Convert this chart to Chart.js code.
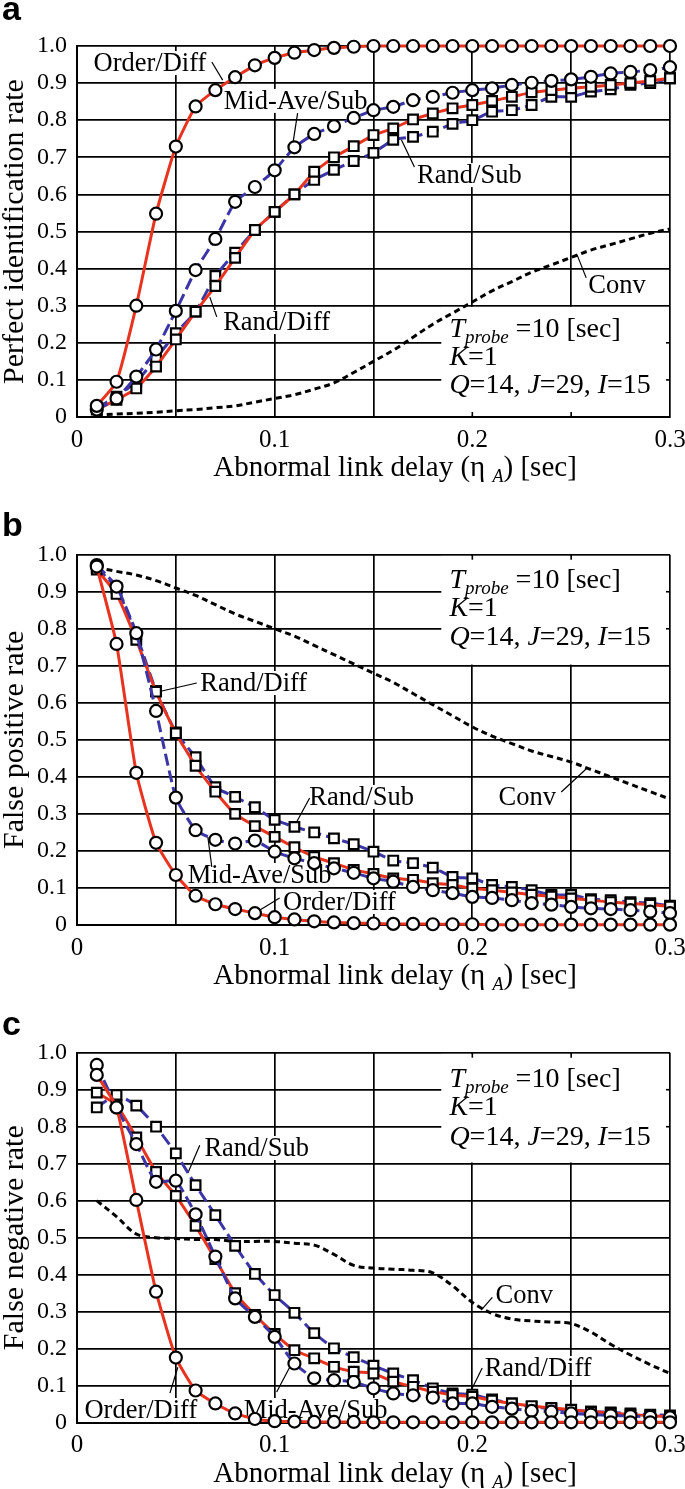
<!DOCTYPE html>
<html><head><meta charset="utf-8">
<script src="https://cdn.jsdelivr.net/npm/chart.js@4.4.1/dist/chart.umd.min.js"></script>
<style>
html,body{margin:0;padding:0;background:#fff;}
body{width:685px;height:1489px;position:relative;overflow:hidden;}
canvas{position:absolute;left:0;}
</style></head><body>
<canvas id="ca" width="685" height="500" style="top:0px"></canvas>
<canvas id="cb" width="685" height="505" style="top:490px"></canvas>
<canvas id="cc" width="685" height="504" style="top:985px"></canvas>
<script>
// ---------- DATA ----------
const xDelay = [0.01,0.02,0.03,0.04,0.05,0.06,0.07,0.08,0.09,0.10,0.11,0.12,0.13,0.14,0.15,0.16,0.17,0.18,0.19,0.20,0.21,0.22,0.23,0.24,0.25,0.26,0.27,0.28,0.29,0.30];
const xTickLabels = ['0','0.1','0.2','0.3'];
const yTickLabels = ['0','0.1','0.2','0.3','0.4','0.5','0.6','0.7','0.8','0.9','1.0'];
const seriesNames = ['Order/Diff','Mid-Ave/Sub','Rand/Diff','Rand/Sub','Conv'];

// (a) Perfect identification rate
const aOrderDiff = [0.03,0.095,0.30,0.548,0.729,0.837,0.881,0.916,0.948,0.968,0.982,0.989,0.995,0.998,1,1,1,1,1,1,1,1,1,1,1,1,1,1,1,1];
const aMidAveSub = [0.02,0.05,0.109,0.182,0.286,0.396,0.48,0.58,0.62,0.665,0.727,0.763,0.784,0.806,0.827,0.836,0.854,0.863,0.874,0.881,0.886,0.895,0.901,0.906,0.91,0.917,0.926,0.93,0.935,0.943];
const aRandDiff = [0.02,0.046,0.077,0.136,0.209,0.284,0.353,0.429,0.504,0.553,0.60,0.661,0.70,0.73,0.76,0.778,0.802,0.818,0.832,0.841,0.852,0.863,0.875,0.881,0.886,0.89,0.895,0.90,0.906,0.913];
const aRandSub = [0.025,0.055,0.095,0.158,0.226,0.284,0.38,0.443,0.504,0.553,0.60,0.639,0.666,0.69,0.712,0.747,0.755,0.769,0.79,0.80,0.823,0.827,0.841,0.863,0.863,0.877,0.883,0.895,0.90,0.913];
const aConv = [0.005,0.008,0.01,0.013,0.017,0.02,0.025,0.03,0.04,0.05,0.06,0.075,0.092,0.12,0.15,0.18,0.215,0.25,0.28,0.31,0.34,0.365,0.39,0.41,0.43,0.45,0.465,0.48,0.495,0.507];

// (b) False positive rate
const bOrderDiff = [0.968,0.759,0.411,0.222,0.135,0.079,0.056,0.043,0.032,0.021,0.015,0.01,0.007,0.005,0.004,0.003,0.003,0.002,0.002,0.002,0.001,0.001,0.001,0.001,0.001,0.001,0.001,0.001,0.001,0.001];
const bMidAveSub = [0.972,0.914,0.788,0.578,0.344,0.256,0.23,0.22,0.228,0.198,0.18,0.167,0.153,0.141,0.126,0.117,0.103,0.094,0.086,0.076,0.073,0.067,0.059,0.055,0.049,0.045,0.043,0.04,0.036,0.032];
const bRandDiff = [0.96,0.894,0.77,0.63,0.518,0.43,0.36,0.30,0.267,0.238,0.21,0.184,0.167,0.149,0.138,0.126,0.122,0.113,0.108,0.099,0.094,0.088,0.082,0.077,0.072,0.067,0.062,0.058,0.055,0.05];
const bRandSub = [0.965,0.91,0.785,0.632,0.52,0.453,0.372,0.346,0.318,0.284,0.265,0.25,0.234,0.218,0.198,0.174,0.167,0.155,0.13,0.126,0.108,0.103,0.094,0.081,0.081,0.07,0.067,0.062,0.059,0.052];
const bConv = [0.965,0.955,0.945,0.93,0.91,0.89,0.865,0.84,0.82,0.80,0.78,0.755,0.73,0.705,0.68,0.655,0.625,0.595,0.565,0.535,0.51,0.49,0.47,0.455,0.44,0.42,0.40,0.38,0.36,0.34];

// (c) False negative rate
const cOrderDiff = [0.94,0.852,0.602,0.354,0.176,0.087,0.052,0.025,0.01,0.004,0.003,0.002,0.002,0.002,0.001,0.001,0.001,0.001,0.001,0.001,0.001,0.001,0.001,0.001,0.001,0.001,0.001,0.001,0.001,0.001];
const cMidAveSub = [0.967,0.852,0.753,0.651,0.654,0.563,0.449,0.336,0.286,0.232,0.16,0.12,0.115,0.11,0.093,0.079,0.074,0.068,0.052,0.052,0.043,0.038,0.032,0.03,0.025,0.022,0.02,0.018,0.016,0.014];
const cRandDiff = [0.892,0.859,0.771,0.678,0.613,0.532,0.442,0.35,0.291,0.24,0.196,0.174,0.151,0.138,0.133,0.111,0.097,0.084,0.075,0.07,0.06,0.052,0.045,0.04,0.035,0.03,0.026,0.022,0.019,0.016];
const cRandSub = [0.852,0.886,0.857,0.80,0.728,0.642,0.561,0.478,0.402,0.345,0.297,0.242,0.201,0.177,0.154,0.133,0.115,0.093,0.079,0.076,0.063,0.052,0.043,0.038,0.034,0.03,0.028,0.025,0.022,0.02];
const cConv = [0.60,0.557,0.51,0.50,0.498,0.495,0.495,0.49,0.49,0.49,0.485,0.48,0.455,0.425,0.418,0.415,0.412,0.405,0.37,0.325,0.295,0.28,0.275,0.272,0.268,0.245,0.212,0.183,0.157,0.133];

// ---------- STYLE ----------
const SERIF = '"Liberation Serif","Times New Roman",serif';
const RED = '#e8331f';
const BLUE = '#3c35a5';

function makeDatasets(series){
  const styles = [
    {color:RED, dash:[], style:'circle', r:6},
    {color:BLUE, dash:[12,5], style:'circle', r:6},
    {color:RED, dash:[], style:'rect', r:6.8},
    {color:BLUE, dash:[12,5], style:'rect', r:6.8},
    {color:'#000', dash:[6,4], style:false, r:0}
  ];
  return series.map((vals,i)=>({
    label: seriesNames[i],
    data: xDelay.map((x,k)=>({x:x,y:vals[k]})),
    borderColor: styles[i].color,
    borderWidth: 3,
    borderDash: styles[i].dash,
    tension: i===4 ? 0.35 : 0.15,
    pointStyle: styles[i].style,
    pointRadius: styles[i].r,
    pointBorderColor:'#000',
    pointBackgroundColor:'#fff',
    pointBorderWidth:2.2,
    clip:false,
    fill:false
  }));
}

function richWidth(ctx, parts){
  let w=0; for(const p of parts){ctx.font=p[1]; w+=ctx.measureText(p[0]).width;} return w;
}
function drawRich(ctx, parts, x, y){
  let cx=x;
  for(const p of parts){ctx.font=p[1]; ctx.fillText(p[0],cx,y+(p[2]||0)); cx+=ctx.measureText(p[0]).width;}
}

function annotPlugin(cfg){
  return {
    id:'annot_'+cfg.letter,
    beforeDatasetsDraw(chart){
      const ctx=chart.ctx, xs=chart.scales.x, ys=chart.scales.y, ca=chart.chartArea;
      const P=(x,y)=>[xs.getPixelForValue(x), ys.getPixelForValue(y)];
      ctx.save();
      const bx0 = xs.getPixelForValue(cfg.box.x0);
      const byTop = ys.getPixelForValue(cfg.box.y1), byBot = ys.getPixelForValue(cfg.box.y0);
      ctx.fillStyle='#fff';
      ctx.fillRect(bx0, byTop+1.2, ca.right-1.2-bx0, byBot-byTop-2.4);
      ctx.strokeStyle='#000'; ctx.lineWidth=1.6;
      for(const v of [0.2,0.25]){
        const px=xs.getPixelForValue(v);
        ctx.beginPath();
        if(cfg.box.y0===0){ctx.moveTo(px,byBot);ctx.lineTo(px,byBot-5);} else {ctx.moveTo(px,byTop);ctx.lineTo(px,byTop+5);}
        ctx.stroke();
      }
      for(const v of cfg.box.hStubs){
        const py=ys.getPixelForValue(v);
        ctx.beginPath();ctx.moveTo(ca.right,py);ctx.lineTo(ca.right-4,py);ctx.stroke();
      }
      ctx.fillStyle='#000'; ctx.textAlign='left'; ctx.textBaseline='alphabetic';
      const fN='28px '+SERIF, fI='italic 28px '+SERIF, fS='italic 19px '+SERIF;
      const px0 = xs.getPixelForValue(cfg.params.x);
      drawRich(ctx, [['T',fI],['probe',fS,6],[' =10 [sec]',fN]], px0, ys.getPixelForValue(cfg.params.ys[0]));
      drawRich(ctx, [['K',fI],['=1',fN]], px0, ys.getPixelForValue(cfg.params.ys[1]));
      drawRich(ctx, [['Q',fI],['=14, ',fN],['J',fI],['=29, ',fN],['I',fI],['=15',fN]], px0, ys.getPixelForValue(cfg.params.ys[2]));
      ctx.font='26.5px '+SERIF;
      for(const L of cfg.labels){
        const [t,lx,ly,x1,y1,x2,y2]=L;
        const [cx,cy]=P(lx,ly);
        const w=ctx.measureText(t).width;
        ctx.fillStyle='#fff';
        ctx.fillRect(cx-w/2-2, cy-12, w+4, 24);
        ctx.fillStyle='#000'; ctx.textAlign='center'; ctx.textBaseline='middle';
        ctx.fillText(t,cx,cy+1);
        const a=P(x1,y1), b=P(x2,y2);
        ctx.strokeStyle='#000'; ctx.lineWidth=1.2;
        ctx.beginPath();ctx.moveTo(a[0],a[1]);ctx.lineTo(b[0],b[1]);ctx.stroke();
      }
      ctx.restore();
    },
    afterDraw(chart){
      const ctx=chart.ctx, ca=chart.chartArea;
      ctx.save();
      ctx.fillStyle='#000';
      ctx.font='bold 34px "Liberation Sans",Arial,sans-serif';
      ctx.textAlign='left'; ctx.textBaseline='alphabetic';
      ctx.fillText(cfg.letter, 2, cfg.letterY);
      ctx.save();
      ctx.translate(23,(ca.top+ca.bottom)/2);
      ctx.rotate(-Math.PI/2);
      ctx.font='30px '+SERIF; ctx.textAlign='center';
      ctx.fillText(cfg.ytitle,0,0);
      ctx.restore();
      const fN='29px '+SERIF;
      const parts=[['Abnormal link delay (\u03b7',fN],[' ',fN],['A','italic 18px '+SERIF,6],[') [sec]',fN]];
      const w=richWidth(ctx,parts);
      ctx.textAlign='left';
      drawRich(ctx,parts,395-w/2,ca.bottom+59);
      ctx.restore();
    }
  };
}

function makeChart(cfg){
  const el=document.getElementById(cfg.canvas);
  return new Chart(el,{
    type:'line',
    data:{datasets:makeDatasets(cfg.series)},
    options:{
      responsive:false, animation:false, devicePixelRatio:1,
      layout:{padding:{top:cfg.padTop,right:15,left:0,bottom:0}},
      plugins:{legend:{display:false},tooltip:{enabled:false}},
      scales:{
        x:{type:'linear',min:0,max:0.3,
          afterFit(s){s.height=cfg.xAxisH;s.paddingLeft=0;s.paddingRight=0;},
          ticks:{stepSize:0.05,autoSkip:false,maxRotation:0,minRotation:0,padding:8,color:'#000',
            font:{family:SERIF,size:25},
            callback(v){const k=Math.round(v*10);return Math.abs(v*10-k)<1e-6?xTickLabels[k]:'';}},
          grid:{color:'#000',lineWidth:1.7,drawTicks:false},
          border:{color:'#000',width:2}
        },
        y:{type:'linear',min:0,max:1,
          afterFit(s){s.width=77;s.paddingTop=0;s.paddingBottom=0;},
          ticks:{stepSize:0.1,autoSkip:false,padding:10,color:'#000',
            font:{family:SERIF,size:24},
            callback(v){return yTickLabels[Math.round(v*10)];}},
          grid:{color:'#000',lineWidth:1.7,drawTicks:false},
          border:{color:'#000',width:2}
        }
      }
    },
    plugins:[annotPlugin(cfg)]
  });
}

makeChart({
  canvas:'ca', padTop:46, xAxisH:83, letter:'a', letterY:20,
  ytitle:'Perfect identification rate',
  series:[aOrderDiff,aMidAveSub,aRandDiff,aRandSub,aConv],
  box:{x0:0.1843,y0:0,y1:0.3,hStubs:[0.1,0.2]},
  params:{x:0.1884, ys:[0.2156,0.140,0.0647]},
  labels:[
    ['Order/Diff',0.0369,0.954,0.0682,0.957,0.0737,0.908],
    ['Mid-Ave/Sub',0.1106,0.852,0.1116,0.819,0.1091,0.733],
    ['Rand/Diff',0.101,0.256,0.0707,0.27,0.0672,0.323],
    ['Rand/Sub',0.1985,0.652,0.1707,0.674,0.1641,0.747],
    ['Conv',0.2732,0.356,0.2576,0.375,0.253,0.437]
  ]
});
makeChart({
  canvas:'cb', padTop:64.7, xAxisH:70, letter:'b', letterY:46,
  ytitle:'False positive rate',
  series:[bOrderDiff,bMidAveSub,bRandDiff,bRandSub,bConv],
  box:{x0:0.1843,y0:0.7,y1:1.0,hStubs:[0.8,0.9]},
  params:{x:0.1884, ys:[0.91,0.834,0.756]},
  labels:[
    ['Rand/Diff',0.0894,0.6535,0.0606,0.6535,0.0429,0.632],
    ['Rand/Sub',0.144,0.3457,0.1177,0.343,0.1111,0.278],
    ['Mid-Ave/Sub',0.0924,0.135,0.0682,0.1566,0.0662,0.2376],
    ['Order/Diff',0.1328,0.0621,0.1025,0.0729,0.0909,0.0351],
    ['Conv',0.2278,0.3457,0.245,0.359,0.2581,0.424]
  ]
});
makeChart({
  canvas:'cc', padTop:67.7, xAxisH:66.3, letter:'c', letterY:50,
  ytitle:'False negative rate',
  series:[cOrderDiff,cMidAveSub,cRandDiff,cRandSub,cConv],
  box:{x0:0.1843,y0:0.7,y1:1.0,hStubs:[0.8,0.9]},
  params:{x:0.1884, ys:[0.907,0.832,0.75]},
  labels:[
    ['Rand/Sub',0.0909,0.7424,0.0621,0.75,0.0561,0.6746],
    ['Order/Diff',0.0323,0.0343,0.047,0.08,0.051,0.15],
    ['Mid-Ave/Sub',0.1207,0.0343,0.101,0.083,0.1076,0.15],
    ['Conv',0.2263,0.3446,0.2101,0.339,0.2045,0.304],
    ['Rand/Diff',0.2333,0.1478,0.205,0.148,0.1995,0.0886]
  ]
});
</script>
</body></html>
